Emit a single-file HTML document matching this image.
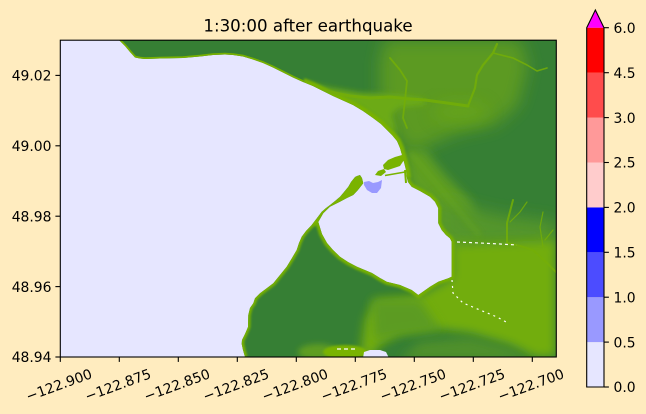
<!DOCTYPE html>
<html><head><meta charset="utf-8"><style>
html,body{margin:0;padding:0;background:#ffecbf;}
svg{display:block}
text{font-family:"DejaVu Sans","Liberation Sans",sans-serif;fill:#000}
</style></head><body>
<svg width="646" height="414" viewBox="0 0 646 414" xmlns="http://www.w3.org/2000/svg">
<defs>
<clipPath id="ax"><rect x="60.3" y="40.2" width="496" height="316.8"/></clipPath>
<clipPath id="land"><path d="M119,40 L122,43 125,46 130,52 135,57.5 140,58.5 145,59 160,58.5 183,58 200,56.5 213,55 225,54.5 233,55 243,56.5 253,59.5 263,63 273,67.5 283,72.5 293,77.5 303,82 313,86 323,91 333,96 343,100.5 353,105 363,111 373,118 381,124 387,130 392,135 397,141 400,148 402,155 404,162 406,170 407,178 408,182 411.7,186.7 420,191 430,196.7 435,201.7 438.3,208.3 438.3,223.3 441.7,230 446,235 450,238.3 451.7,241.7 451.7,276.7 448.3,278.3 438.3,281.7 430,286.7 418.3,295 411.7,290 400,285 386.7,281.7 380,278 372,273 357,266.7 348,262 340,256.7 333,250 327,243 322,234 318.3,222 323.3,213.3 330,206.7 340,201.7 347,198 353.3,195 358,190 363.3,183.3 362,178 360,175 357,176 355,177 351,182 348.3,186.7 344,192 340,196.7 335,201 330,205 326,208 321.7,211.7 317,218 311.7,225 306,231 301.7,236.7 299,243 296.7,250 292,258 286.7,266.7 280,275 273.3,283.3 266.7,288.3 260,293.3 255,298.3 253.3,303.3 250,308 248.3,315 248,327 245,334 242,340 241.7,344 243,350 245,357 556.3,357 556.3,40 Z"/></clipPath>
<filter id="b8" x="-50%" y="-50%" width="200%" height="200%"><feGaussianBlur stdDeviation="8"/></filter>
<filter id="b5" x="-50%" y="-50%" width="200%" height="200%"><feGaussianBlur stdDeviation="5"/></filter>
<filter id="b3" x="-50%" y="-50%" width="200%" height="200%"><feGaussianBlur stdDeviation="3"/></filter>
<filter id="b1" x="-50%" y="-50%" width="200%" height="200%"><feGaussianBlur stdDeviation="1"/></filter>
</defs>

<text x="308" y="31.5" font-size="16.67" text-anchor="middle">1:30:00 after earthquake</text>

<g clip-path="url(#ax)">
  <rect x="60.3" y="40.2" width="496" height="316.8" fill="#e6e6ff"/>
  <g clip-path="url(#land)">
    <rect x="60" y="40" width="500" height="320" fill="#367f34"/>
    <path d="M385,40 L520,40 L528,65 L518,105 L495,125 L460,132 L440,140 L420,150 L405,150 L390,120 L380,95 L380,60 Z" fill="#5b9a24" filter="url(#b8)"/>
    <ellipse cx="460" cy="112" rx="28" ry="12" fill="#6aa818" opacity="0.6" filter="url(#b8)"/>
    <path d="M305,82 L330,88 L360,93 L400,95 L425,99 L425,105 L400,107 L392,114 L398,135 L385,126 L360,108 Z" fill="#6caa16" filter="url(#b3)"/>
    <path d="M404,150 L425,150 L445,175 L470,200 L482,235 L452,246 L438,225 L438,208 L410,187 Z" fill="#5f9e20" filter="url(#b5)"/>
    <path d="M440,200 L500,215 L556,222 L556,246 L452,246 L440,230 Z" fill="#55962a" filter="url(#b8)"/>
    <path d="M410,152 L480,236" stroke="#6aa818" stroke-width="3" fill="none" opacity="0.7" filter="url(#b3)"/>
    <path d="M452,244 L556,240 L556,357 L535,357 L510,345 L470,333 L430,328 L400,332 L380,345 L372,357 L360,357 L365,320 L375,300 L418,296 L452,278 Z" fill="#72ad0f" filter="url(#b5)"/>
    <path d="M420,342 L470,338 L510,348 L530,360 L430,360 L400,360 Z" fill="#4f9029" filter="url(#b5)"/>
    <path d="M372,300 L420,300 L440,330 L400,335 L375,340 Z" fill="#5c9b23" filter="url(#b5)"/>
    <ellipse cx="318" cy="352" rx="20" ry="8" fill="#5e9d22" filter="url(#b3)"/>
    <ellipse cx="345" cy="352" rx="22" ry="7" fill="#79b300" filter="url(#b1)"/>
    <path d="M119,40 L122,43 125,46 130,52 135,57.5 140,58.5 145,59 160,58.5 183,58 200,56.5 213,55 225,54.5 233,55 243,56.5 253,59.5 263,63 273,67.5 283,72.5 293,77.5 303,82" stroke="#76b000" stroke-width="3.5" fill="none"/>
    <path d="M303,82 L313,86 323,91 333,96 343,100.5 353,105 363,111 373,118 381,124 387,130 392,135 397,141 400,148 402,155 404,162 406,170 407,178" stroke="#79b300" stroke-width="8" fill="none" filter="url(#b1)"/>
    <path d="M407,178 L408,182 411.7,186.7 420,191 430,196.7 435,201.7 438.3,208.3 438.3,223.3 441.7,230 446,235 450,238.3 451.7,241.7 451.7,276.7 448.3,278.3 438.3,281.7 430,286.7 418.3,295 411.7,290 400,285 386.7,281.7 380,278 372,273 357,266.7 348,262 340,256.7 333,250 327,243 322,234 318.3,222" stroke="#76b000" stroke-width="6" fill="none" filter="url(#b1)"/>
    <path d="M318.3,222 L311.7,225 306,231 301.7,236.7 299,243 296.7,250 292,258 286.7,266.7 280,275 273.3,283.3 266.7,288.3 260,293.3 255,298.3 253.3,303.3 250,308 248.3,315 248,327 245,334 242,340 241.7,344 243,350 245,357" stroke="#76b000" stroke-width="5" fill="none" filter="url(#b1)"/>
    <path d="M318.3,222 L323.3,213.3 330,206.7 340,201.7 347,198 353.3,195 358,190 363.3,183.3 362,178 360,175 357,176 355,177 351,182 348.3,186.7 344,192 340,196.7 335,201 330,205 326,208 321.7,211.7 317,218 311.7,225 Z" fill="#7ab300"/>
    <g fill="none" stroke="#74ae08" stroke-linejoin="round" stroke-linecap="round" opacity="0.85">
      <path d="M310,86 L330,92 L350,96 L370,98 L390,97 L410,99 L425,100 L447,103 L468,106" stroke-width="3"/>
      <path d="M468,106 L475,88 L477,75 L483,65 L493,53 L497,44" stroke-width="2.2"/>
      <path d="M493,53 L513,58 L527,65 L537,71 L547,68" stroke-width="1.6"/>
      <path d="M390,58 L400,70 L407,81 L405,100 L403,118 L407,128" stroke-width="1.8"/>
      <path d="M513,200 L507,223 L507,243 L520,246 L533,250 L547,263 L556,272" stroke-width="2"/>
      <path d="M527,202 L520,212 L510,222" stroke-width="1.2"/>
      <path d="M543,212 L540,227 L543,247" stroke-width="1.2"/>
      <path d="M553,230 L545,240" stroke-width="1.2"/>
    </g>
    <g fill="none" stroke="#ffffff" stroke-width="1.2">
      <path d="M457,242 L480,243 L500,244 L517,245" stroke-dasharray="3 3"/>
      <path d="M452,280 L453,293 L463,303 L480,310 L497,317 L508,323" stroke-dasharray="2 4"/>
      <path d="M337,349 L357,349" stroke-dasharray="4 3"/>
    </g>
    <path d="M363,358 L364,352 L370,350 L380,350 L386,352 L389,358 Z" fill="#e6e6ff"/>
  </g>
  <path d="M383,165 L388,160 L395,157 L402,155 L404,160 L400,166 L394,168 L388,170 L384,169 Z" fill="#79b300"/>
  <path d="M375,175 L378,171 L384,169 L386,172 L381,176 Z" fill="#79b300"/>
  <path d="M385,175.5 L405,172" stroke="#79b300" stroke-width="1.5"/>
  <path d="M405,170 L406,183" stroke="#79b300" stroke-width="2"/>
  <path d="M364,182 L369,181 L373,183 L378,182 L382,180 L381,188 L377,193 L372,193 L367,190 L364,185 Z" fill="#9999ff"/>
</g>

<rect x="60.3" y="40.2" width="496" height="316.8" fill="none" stroke="#000" stroke-width="1.1"/>

<g stroke="#000" stroke-width="1.1">
  <line x1="55.4" y1="75.4" x2="60.3" y2="75.4"/>
  <line x1="55.4" y1="145.8" x2="60.3" y2="145.8"/>
  <line x1="55.4" y1="216.2" x2="60.3" y2="216.2"/>
  <line x1="55.4" y1="286.6" x2="60.3" y2="286.6"/>
  <line x1="55.4" y1="357" x2="60.3" y2="357"/>
</g>
<g font-size="13.9" text-anchor="end">
  <text x="51.5" y="80.6">49.02</text>
  <text x="51.5" y="151">49.00</text>
  <text x="51.5" y="221.4">48.98</text>
  <text x="51.5" y="291.8">48.96</text>
  <text x="51.5" y="362.2">48.94</text>
</g>

<g stroke="#000" stroke-width="1.1">
  <line x1="60.3" y1="357" x2="60.3" y2="361.9"/>
  <line x1="119.3" y1="357" x2="119.3" y2="361.9"/>
  <line x1="178.3" y1="357" x2="178.3" y2="361.9"/>
  <line x1="237.3" y1="357" x2="237.3" y2="361.9"/>
  <line x1="296.3" y1="357" x2="296.3" y2="361.9"/>
  <line x1="355.3" y1="357" x2="355.3" y2="361.9"/>
  <line x1="414.3" y1="357" x2="414.3" y2="361.9"/>
  <line x1="473.3" y1="357" x2="473.3" y2="361.9"/>
  <line x1="532.3" y1="357" x2="532.3" y2="361.9"/>
</g>
<g font-size="13.9" text-anchor="middle">
  <text transform="translate(59,385) rotate(-20)" y="4.8">−122.900</text>
  <text transform="translate(118,385) rotate(-20)" y="4.8">−122.875</text>
  <text transform="translate(177,385) rotate(-20)" y="4.8">−122.850</text>
  <text transform="translate(236,385) rotate(-20)" y="4.8">−122.825</text>
  <text transform="translate(295,385) rotate(-20)" y="4.8">−122.800</text>
  <text transform="translate(354,385) rotate(-20)" y="4.8">−122.775</text>
  <text transform="translate(413,385) rotate(-20)" y="4.8">−122.750</text>
  <text transform="translate(472,385) rotate(-20)" y="4.8">−122.725</text>
  <text transform="translate(531,385) rotate(-20)" y="4.8">−122.700</text>
</g>

<g>
  <rect x="586.7" y="342.1" width="17.3" height="44.9" fill="#e6e6ff"/>
  <rect x="586.7" y="297.2" width="17.3" height="44.9" fill="#9999ff"/>
  <rect x="586.7" y="252.3" width="17.3" height="44.9" fill="#4c4cff"/>
  <rect x="586.7" y="207.4" width="17.3" height="44.9" fill="#0000ff"/>
  <rect x="586.7" y="162.5" width="17.3" height="44.9" fill="#ffcccc"/>
  <rect x="586.7" y="117.6" width="17.3" height="44.9" fill="#ff9999"/>
  <rect x="586.7" y="72.7" width="17.3" height="44.9" fill="#ff4c4c"/>
  <rect x="586.7" y="27.7" width="17.3" height="45" fill="#ff0000"/>
  <path d="M586.7,27.7 L595.35,10 L604,27.7 Z" fill="#ff00ff"/>
  <path d="M586.7,387 L586.7,27.7 L595.35,10 L604,27.7 L604,387 Z" fill="none" stroke="#000" stroke-width="1.1"/>
</g>
<g stroke="#000" stroke-width="1.1">
  <line x1="604" y1="387" x2="608.9" y2="387"/>
  <line x1="604" y1="342.1" x2="608.9" y2="342.1"/>
  <line x1="604" y1="297.2" x2="608.9" y2="297.2"/>
  <line x1="604" y1="252.3" x2="608.9" y2="252.3"/>
  <line x1="604" y1="207.4" x2="608.9" y2="207.4"/>
  <line x1="604" y1="162.5" x2="608.9" y2="162.5"/>
  <line x1="604" y1="117.6" x2="608.9" y2="117.6"/>
  <line x1="604" y1="72.7" x2="608.9" y2="72.7"/>
  <line x1="604" y1="27.7" x2="608.9" y2="27.7"/>
</g>
<g font-size="13.9">
  <text x="613.5" y="392.2">0.0</text>
  <text x="613.5" y="347.3">0.5</text>
  <text x="613.5" y="302.4">1.0</text>
  <text x="613.5" y="257.5">1.5</text>
  <text x="613.5" y="212.6">2.0</text>
  <text x="613.5" y="167.7">2.5</text>
  <text x="613.5" y="122.8">3.0</text>
  <text x="613.5" y="77.9">4.5</text>
  <text x="613.5" y="32.9">6.0</text>
</g>
</svg>
</body></html>
